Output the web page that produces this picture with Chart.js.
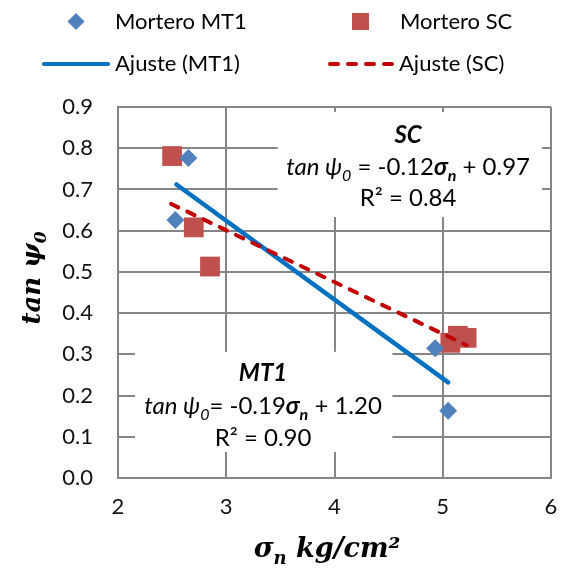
<!DOCTYPE html>
<html>
<head>
<meta charset="utf-8">
<script src="https://cdn.jsdelivr.net/npm/chart.js@4.4.1/dist/chart.umd.min.js"></script>
<style>
    html, body { margin: 0; padding: 0; background: #fff; }
    #wrap { position: relative; width: 565px; height: 571px; }
</style>
</head>
<body>
<div id="wrap"><canvas id="chart"></canvas></div>
<script>
/* ── Data ── */
const seriesNames = ['Mortero MT1', 'Mortero SC', 'Ajuste (MT1)', 'Ajuste (SC)'];
const mt1X = [2.65, 2.53, 4.93, 5.05];
const mt1Y = [0.776, 0.626, 0.315, 0.163];
const scX = [2.50, 2.70, 2.85, 5.07, 5.14, 5.22];
const scY = [0.781, 0.608, 0.513, 0.328, 0.345, 0.340];
const fitMT1X = [2.54, 5.05];
const fitMT1Y = [0.712, 0.232];
const fitSCX = [2.49, 5.22];
const fitSCY = [0.665, 0.322];
const xTicks = [2, 3, 4, 5, 6];
const yTicks = [0, 0.1, 0.2, 0.3, 0.4, 0.5, 0.6, 0.7, 0.8, 0.9];

const SANS = 'Lato, "Open Sans", sans-serif';
const SERIF = '"DejaVu Serif", "Liberation Serif", serif';
const GRID = '#868686';
const BLUE_PT = '#4F81BD';
const RED_PT = '#C0504D';
const BLUE_LN = '#0070C0';
const RED_LN = '#C00000';

const toPoints = (xs, ys) => xs.map((x, i) => ({ x, y: ys[i] }));

/* ── Draw a line of mixed-style text runs, centred ── */
const drawRuns = (ctx, runs, cx, baseline) => {
    let total = 0;
    runs.forEach(r => { ctx.font = r.font; r.w = ctx.measureText(r.t).width; total += r.w; });
    let x = cx - total / 2;
    ctx.textAlign = 'left';
    ctx.textBaseline = 'alphabetic';
    runs.forEach(r => {
        ctx.font = r.font;
        ctx.fillText(r.t, x, baseline + (r.dy || 0));
        x += r.w;
    });
};

const it = `italic 24px ${SANS}`;
const nm = `24px ${SANS}`;
const bi = `italic bold 24px ${SANS}`;
const itSub = `italic 16px ${SANS}`;
const biSub = `italic bold 16px ${SANS}`;

/* ── Trendline labels: white box + equation ── */
const labels = [
    {
        box: [3.475, 0.888, 5.917, 0.633], cx: 4.68, lines: [
            { y: 143, runs: [{ t: 'SC', font: bi }] },
            { y: 175, runs: [{ t: 'tan ψ', font: it }, { t: '0', font: itSub, dy: 6 }, { t: ' = -0.12', font: nm },
                             { t: 'σ', font: bi }, { t: 'n', font: biSub, dy: 6 }, { t: ' + 0.97', font: nm }] },
            { y: 206, runs: [{ t: 'R² = 0.84', font: nm }] }
        ]
    },
    {
        box: [2.157, 0.306, 4.535, 0.063], cx: 3.34, lines: [
            { y: 381, runs: [{ t: 'MT1', font: bi }] },
            { y: 414, runs: [{ t: 'tan ψ', font: it }, { t: '0', font: itSub, dy: 6 }, { t: '= -0.19', font: nm },
                             { t: 'σ', font: bi }, { t: 'n', font: biSub, dy: 6 }, { t: ' + 1.20', font: nm }] },
            { y: 446, runs: [{ t: 'R² = 0.90', font: nm }] }
        ]
    }
];

const annotationPlugin = {
    id: 'annotations',
    beforeDatasetsDraw(chart) {
        const { ctx, scales: { x, y } } = chart;
        ctx.save();
        labels.forEach(l => {
            const [x0, y0, x1, y1] = l.box;
            ctx.fillStyle = '#fff';
            ctx.fillRect(x.getPixelForValue(x0), y.getPixelForValue(y0),
                x.getPixelForValue(x1) - x.getPixelForValue(x0), y.getPixelForValue(y1) - y.getPixelForValue(y0));
            ctx.fillStyle = '#000';
            l.lines.forEach(line => drawRuns(ctx, line.runs, x.getPixelForValue(l.cx), line.y));
        });
        ctx.restore();
    }
};

/* ── Legend (2 x 2) and axis titles ── */
const chromePlugin = {
    id: 'chrome',
    afterDraw(chart) {
        const { ctx } = chart;
        const ds = chart.data.datasets;
        ctx.save();
        ctx.textBaseline = 'middle';
        ctx.textAlign = 'left';
        ctx.font = `22px ${SANS}`;

        // diamond
        ctx.fillStyle = ds[0].backgroundColor;
        ctx.beginPath();
        ctx.moveTo(76, 13); ctx.lineTo(84.5, 21.5); ctx.lineTo(76, 30); ctx.lineTo(67.5, 21.5);
        ctx.closePath(); ctx.fill();
        // square
        ctx.fillStyle = ds[1].backgroundColor;
        ctx.fillRect(352, 13, 17, 17);
        // solid line
        ctx.lineWidth = 4; ctx.lineCap = 'round';
        ctx.strokeStyle = ds[2].borderColor;
        ctx.beginPath(); ctx.moveTo(44, 64); ctx.lineTo(108, 64); ctx.stroke();
        // dashed line
        ctx.strokeStyle = ds[3].borderColor;
        ctx.setLineDash(ds[3].borderDash);
        ctx.beginPath(); ctx.moveTo(330, 64); ctx.lineTo(392, 64); ctx.stroke();
        ctx.setLineDash([]);

        ctx.fillStyle = '#000';
        ctx.fillText(ds[0].label, 115, 22);
        ctx.fillText(ds[1].label, 400, 22);
        ctx.fillText(ds[2].label, 115, 64);
        ctx.fillText(ds[3].label, 399, 64);

        // x title
        const tf = `italic bold 27px ${SERIF}`;
        const tfSub = `italic bold 18px ${SERIF}`;
        drawRuns(ctx, [{ t: 'σ', font: tf }, { t: 'n', font: tfSub, dy: 7 }, { t: ' kg/cm²', font: tf }], 327, 557);
        // y title
        const yf = `italic bold 26px ${SERIF}`;
        const yfSub = `italic bold 17px ${SERIF}`;
        ctx.translate(40, 278);
        ctx.rotate(-Math.PI / 2);
        drawRuns(ctx, [{ t: 'tan ψ', font: yf }, { t: '0', font: yfSub, dy: 6 }], 0, 0);
        ctx.restore();
    }
};

/* ── Chart ── */
const ctx = document.getElementById('chart').getContext('2d');
new Chart(ctx, {
    type: 'scatter',
    data: {
        datasets: [
            {
                label: seriesNames[0], data: toPoints(mt1X, mt1Y), order: 2,
                pointStyle: 'rectRot', pointRadius: 9, backgroundColor: BLUE_PT, borderWidth: 0
            },
            {
                label: seriesNames[1], data: toPoints(scX, scY), order: 3,
                pointStyle: 'rect', pointRadius: 14, backgroundColor: RED_PT, borderWidth: 0
            },
            {
                label: seriesNames[2], data: toPoints(fitMT1X, fitMT1Y), order: 1, type: 'line',
                showLine: true, pointRadius: 0, borderColor: BLUE_LN, borderWidth: 4.5,
                borderCapStyle: 'round', fill: false
            },
            {
                label: seriesNames[3], data: toPoints(fitSCX, fitSCY), order: 0, type: 'line',
                showLine: true, pointRadius: 0, borderColor: RED_LN, borderWidth: 4,
                borderDash: [8, 10], borderCapStyle: 'round', fill: false
            }
        ]
    },
    options: {
        responsive: true,
        maintainAspectRatio: false,
        animation: false,
        layout: { padding: { top: 107, right: 13, left: 0, bottom: 0 } },
        plugins: { legend: { display: false }, tooltip: { enabled: false } },
        scales: {
            x: {
                type: 'linear', min: xTicks[0], max: xTicks[xTicks.length - 1],
                // fixed height; keep the last tick label from eating the right margin
                afterFit: s => { s.height = 93; s.paddingRight = 6; s.paddingLeft = 6; },
                afterBuildTicks: s => { s.ticks = xTicks.map(v => ({ value: v })); },
                grid: { color: GRID, lineWidth: 2, drawTicks: false },
                border: { color: GRID, width: 2 },
                ticks: { padding: 16, color: '#111', font: { family: SANS, size: 22 } }
            },
            y: {
                type: 'linear', min: yTicks[0], max: yTicks[yTicks.length - 1],
                afterFit: s => { s.width = 118; },
                afterBuildTicks: s => { s.ticks = yTicks.map(v => ({ value: v })); },
                grid: { color: GRID, lineWidth: 2, drawTicks: false },
                border: { color: GRID, width: 2 },
                ticks: { padding: 25, color: '#111', font: { family: SANS, size: 22 }, callback: v => v.toFixed(1) }
            }
        }
    },
    plugins: [annotationPlugin, chromePlugin]
});
</script>
</body>
</html>
